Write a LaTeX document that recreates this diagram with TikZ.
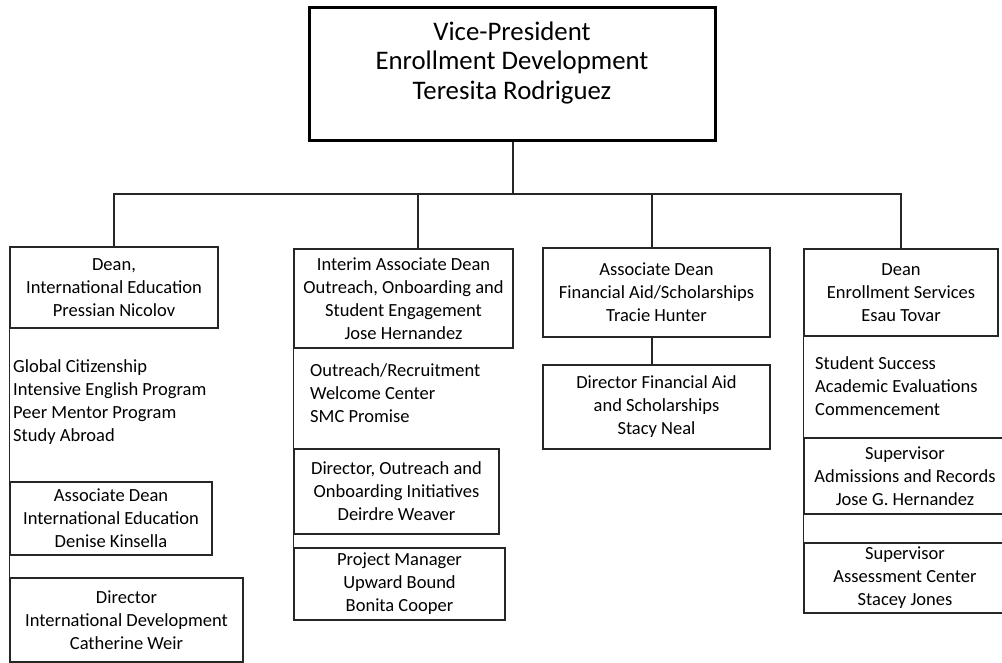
\documentclass[tikz,border=0pt]{standalone}
\usepackage{fontspec}
\setmainfont{Carlito}
\begin{document}
\begin{tikzpicture}[x=1pt,y=-1pt,
  line/.style={line width=1.2pt, draw=black!85},
  box/.style={draw=black!85, line width=1.2pt, inner sep=0pt, align=center,
    font=\fontsize{18.5}{23}\selectfont},
  lst/.style={inner sep=0pt, align=left, anchor=west,
    font=\fontsize{18.5}{23}\selectfont}]
\clip (0,0) rectangle (1002,663);
% top box
\node[draw=black, line width=3pt, minimum width=406pt, minimum height=133pt, inner sep=0pt] (vp) at (512,74.5) {};
\node[inner sep=0pt, align=center, font=\fontsize{26.8}{29.2}\selectfont] (vpt) at (512,63)
  {Vice-President\\Enrollment Development\\Teresita Rodriguez};
% column 1
\node[box, minimum width=208pt, minimum height=81pt] (b1) at (114,287.5)
  {Dean,\\International Education\\Pressian Nicolov};
\node[lst] (l1) at (13,402.5)
  {Global Citizenship\\Intensive English Program\\Peer Mentor Program\\Study Abroad};
\node[box, minimum width=202pt, minimum height=73pt] (b1a) at (111,518.5)
  {Associate Dean\\International Education\\Denise Kinsella};
\node[box, minimum width=233pt, minimum height=84pt] (b1b) at (126.5,620)
  {Director\\International Development\\Catherine Weir};
% column 2
\node[box, minimum width=219pt, minimum height=99pt] (b2) at (403.5,298.5)
  {Interim Associate Dean\\Outreach, Onboarding and\\Student Engagement\\Jose Hernandez};
\node[lst] (l2) at (310,393)
  {Outreach/Recruitment\\Welcome Center\\SMC Promise};
\node[box, line width=2pt, minimum width=205pt, minimum height=85pt] (b2a) at (396.5,491.5)
  {Director, Outreach and\\Onboarding Initiatives\\Deirdre Weaver};
\node[box, minimum width=211pt, minimum height=72pt] (b2b) at (399.5,584)
  {Project Manager\\Upward Bound\\Bonita Cooper};
% column 3
\node[box, minimum width=227pt, minimum height=89pt] (b3) at (656.5,292.5)
  {Associate Dean\\Financial Aid/Scholarships\\Tracie Hunter};
\node[box, minimum width=227pt, minimum height=84pt] (b3a) at (656.5,407)
  {Director Financial Aid\\and Scholarships\\Stacy Neal};
% column 4
\node[box, minimum width=194pt, minimum height=87pt] (b4) at (901,292.5)
  {Dean\\Enrollment Services\\Esau Tovar};
\node[lst] (l4) at (815,386)
  {Student Success\\Academic Evaluations\\Commencement};
\node[box, minimum width=202pt, minimum height=76pt] (b4a) at (905,476)
  {Supervisor\\Admissions and Records\\Jose G. Hernandez};
\node[box, minimum width=202pt, minimum height=70pt] (b4b) at (905,578)
  {Supervisor\\Assessment Center\\Stacey Jones};
% connectors
\coordinate (bus) at (513,194);
\coordinate (d1) at (114,247);
\coordinate (d2) at (418,249);
\coordinate (d3) at (652,248);
\coordinate (d4) at (901,249);
\draw[line] (vp.south -| bus) -- (bus);
\draw[line] (d1) -- (d1 |- bus) -- (d4 |- bus) -- (d4);
\draw[line] (d2 |- bus) -- (d2);
\draw[line] (d3 |- bus) -- (d3);
\draw[line] (b1.south west) -- (b1b.north west);
\draw[line] (b2.south west) -- (b2b.north west);
\draw[line] (b3.south -| d3) -- (b3a.north -| d3);
\draw[line] (b4.south west) -- (b4a.north west);
\draw[line] (b4a.south west) -- (b4b.north west);
\end{tikzpicture}
\end{document}
